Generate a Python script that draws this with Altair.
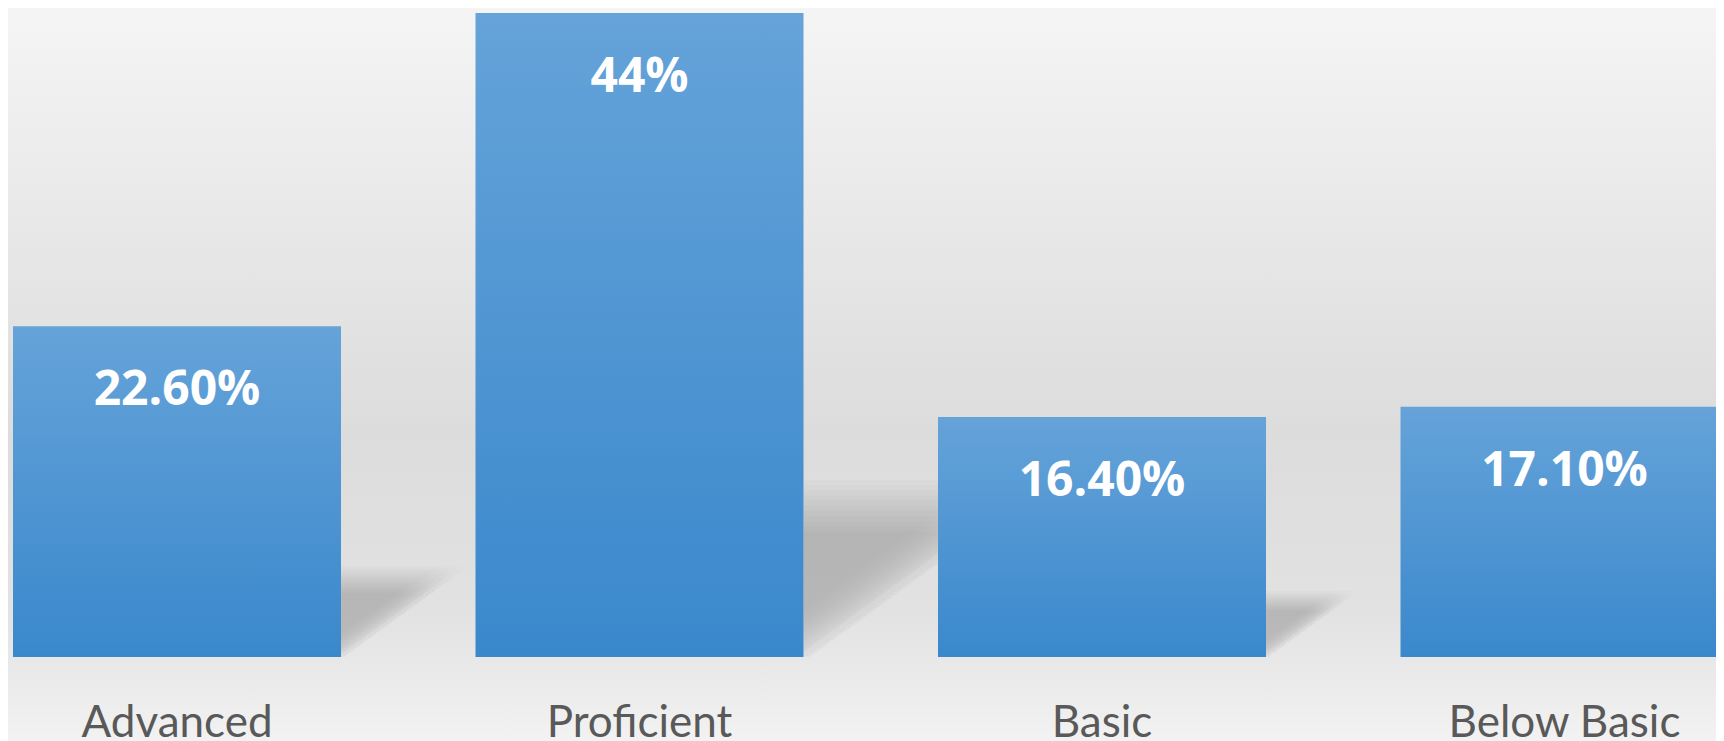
import altair as alt
import pandas as pd

categories = ["Advanced", "Proficient", "Basic", "Below Basic"]
values = [22.6, 44.0, 16.4, 17.1]
labels = ["22.60%", "44%", "16.40%", "17.10%"]

df = pd.DataFrame({
    "category": categories,
    "value": values,
    "label": labels,
    "idx": list(range(len(categories))),
})

W = 1708
H = 649
XR = [-62.25, 1787.75]
YDOM = [0, 44.35]

base = alt.Chart(df)

bg = alt.Chart(alt.Data(values=[{}])).mark_rect(
    fill=alt.Gradient(
        gradient="linear",
        stops=[
            alt.GradientStop(color="#f5f5f5", offset=0),
            alt.GradientStop(color="#dcdcdc", offset=0.58),
            alt.GradientStop(color="#e2e2e2", offset=0.82),
            alt.GradientStop(color="#f3f3f3", offset=1),
        ],
        x1=0, y1=0, x2=0, y2=1,
    )
).encode(x=alt.value(-8), x2=alt.value(W + 8), y=alt.value(-8), y2=alt.value(740))

# soft perspective shadows: many faint stacked wedges sharing the same diagonal edge
shadow_layers = []
ks = [0.195, 0.203, 0.211, 0.219, 0.227, 0.235, 0.243, 0.251, 0.259, 0.267, 0.275]
for k in ks:
    sh = base.transform_calculate(
        xs="datum.idx + 0.8546",
        xs2=f"datum.idx + 0.8546 + 0.04354 * {k} * datum.value",
        ys=f"{k} * datum.value",
    ).mark_rect(
        fill=alt.Gradient(
            gradient="linear",
            stops=[
                alt.GradientStop(color="rgba(0,0,0,0.021)", offset=0),
                alt.GradientStop(color="rgba(0,0,0,0.021)", offset=0.36),
                alt.GradientStop(color="rgba(0,0,0,0.010)", offset=0.45),
                alt.GradientStop(color="rgba(0,0,0,0)", offset=0.53),
                alt.GradientStop(color="rgba(0,0,0,0)", offset=1),
            ],
            x1=0, y1=0, x2=1, y2=1,
        )
    ).encode(
        x=alt.X("xs:Q", scale=alt.Scale(domain=[0, 4], range=XR, nice=False, zero=False), axis=None),
        x2="xs2:Q",
        y=alt.Y("ys:Q", scale=alt.Scale(domain=YDOM, nice=False), axis=None),
        y2=alt.datum(0),
    )
    shadow_layers.append(sh)

xenc = alt.X(
    "category:N",
    sort=categories,
    scale=alt.Scale(range=XR, paddingInner=0.2908, paddingOuter=0.1454),
    axis=alt.Axis(
        title=None, domain=False, ticks=False, tickSize=0, grid=False, zindex=1,
        labelAngle=0, labelFont="Lato", labelFontSize=44, labelColor="#595959",
        labelPadding=79, labelBaseline="alphabetic", labelLimit=0,
        labelOverlap=False, labelBound=False,
    ),
)
yenc = alt.Y("value:Q", scale=alt.Scale(domain=YDOM, nice=False), axis=None)

bars = base.mark_bar(
    fill=alt.Gradient(
        gradient="linear",
        stops=[
            alt.GradientStop(color="#65a3d9", offset=0),
            alt.GradientStop(color="#3a88cc", offset=1),
        ],
        x1=0, y1=0, x2=0, y2=1,
    )
).encode(x=xenc, y=yenc)

text = base.mark_text(
    color="white", font="Open Sans", fontWeight="bold", fontSize=48,
    baseline="alphabetic", align="center", dy=79,
).encode(x=xenc, y=yenc, text="label:N")

chart = alt.layer(bg, *shadow_layers, bars, text).resolve_scale(x="independent").properties(
    width=W, height=H,
    autosize=alt.AutoSizeParams(type="none"),
    padding={"left": 0, "top": 0, "right": 0, "bottom": 84},
    background="#f3f3f3",
).configure_view(stroke=None)

chart.save("out.html", embed_options={"renderer": "svg", "actions": False})
